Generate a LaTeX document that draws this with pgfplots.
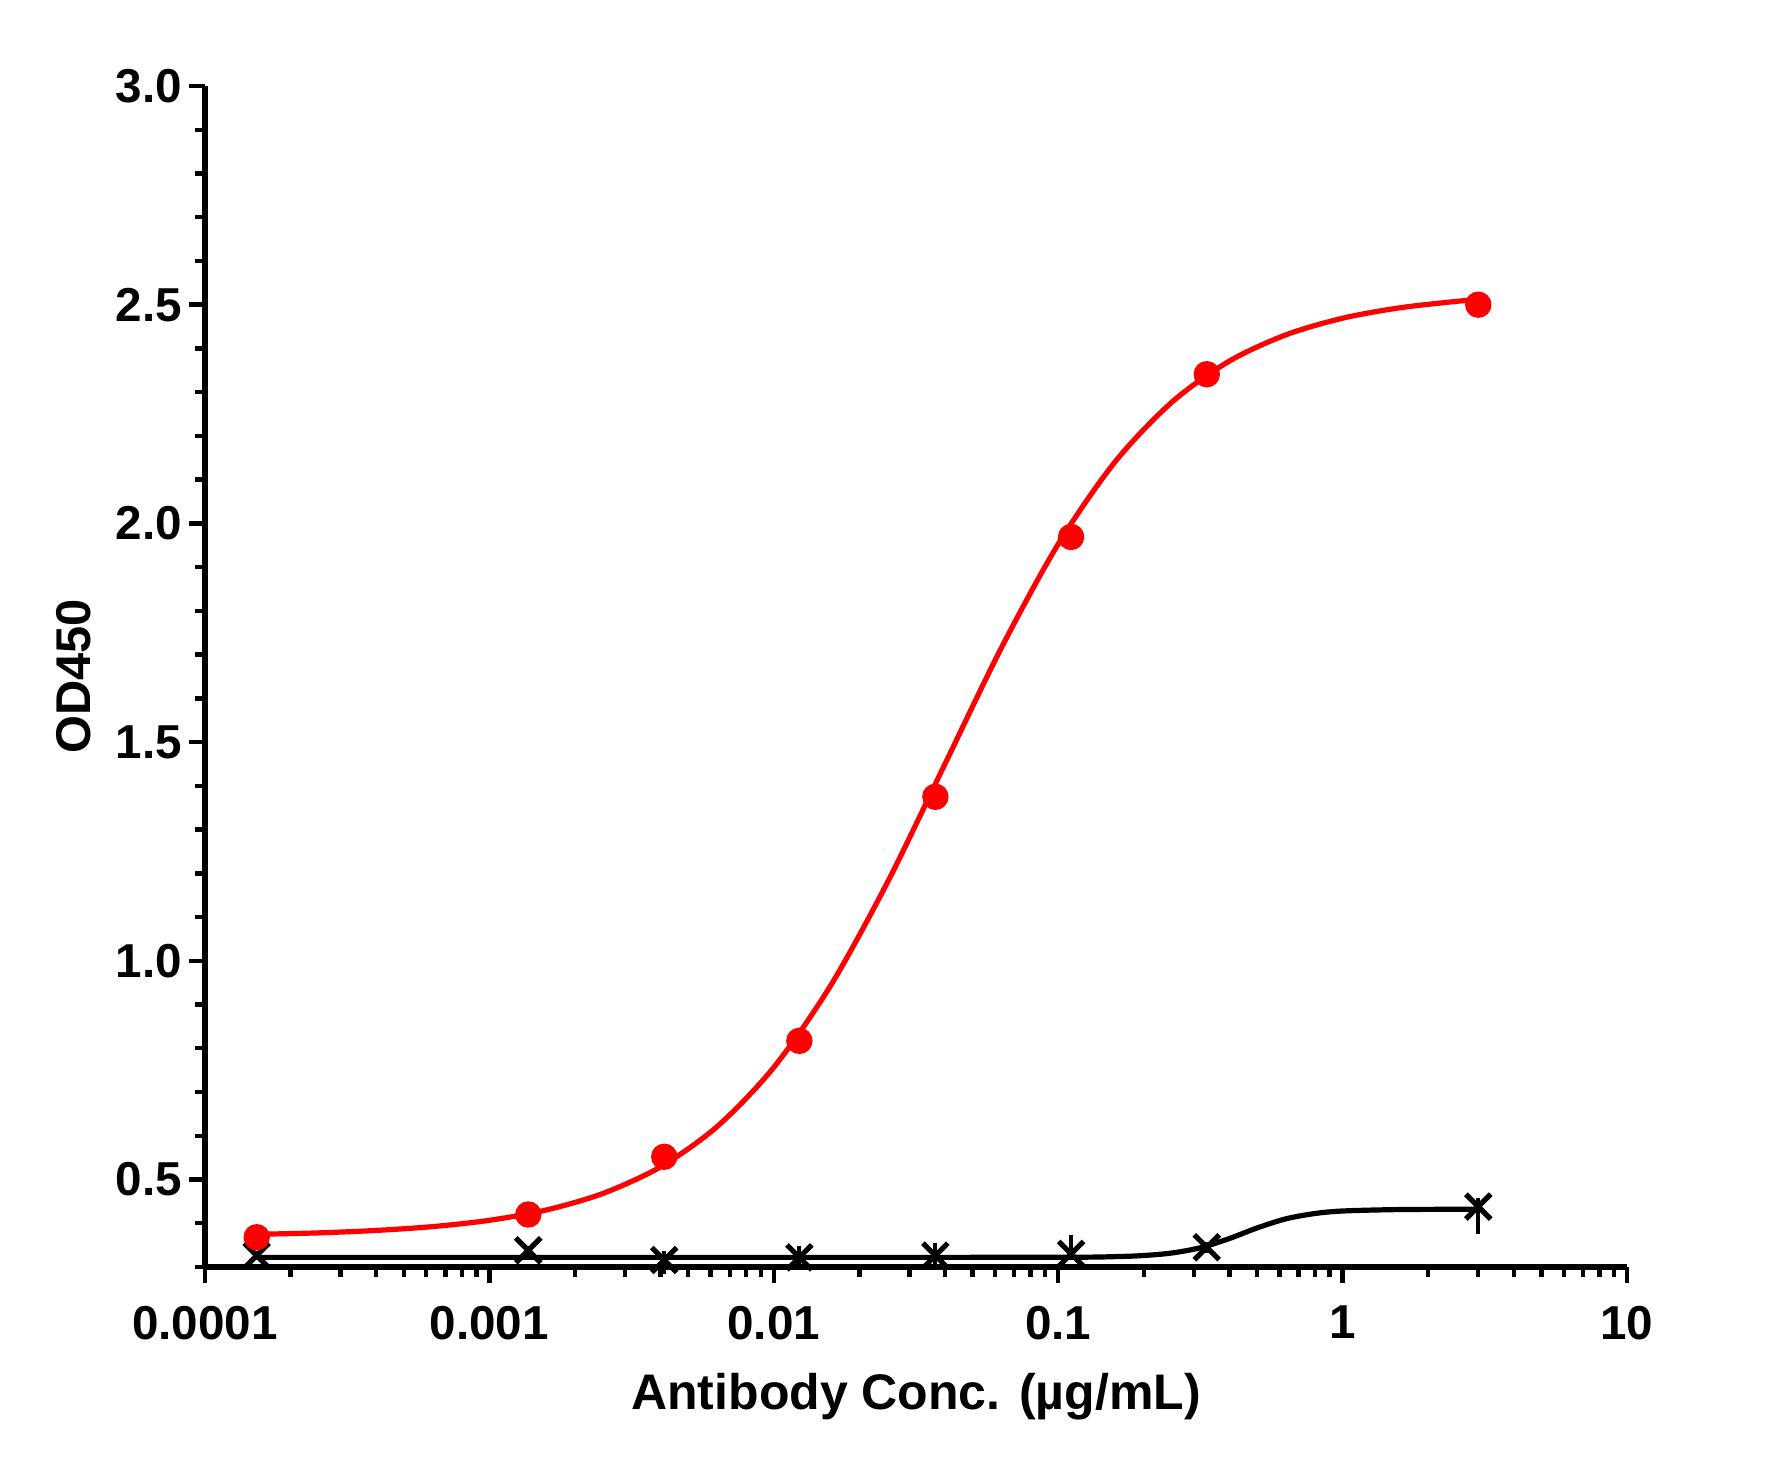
\documentclass[border=0pt]{standalone}
\usepackage{fontspec}
\setmainfont{Liberation Sans}
\usepackage{pgfplots}
\pgfplotsset{compat=1.18}
\begin{document}
\begin{tikzpicture}
\begin{axis}[
  scale only axis, width=355.5pt, height=295.25pt,
  xmode=log, xmin=1e-4, xmax=10, ymin=0.3, ymax=3.0,
  clip=false,
  axis x line*=bottom, axis y line*=left,
  axis line style={line width=1.4pt, -},
  tick align=outside,
  major tick length=4pt, minor tick length=2.4pt,
  tick style={line width=1.1pt, black},
  xtick={1e-4,1e-3,1e-2,1e-1,1,10},
  xticklabels={0.0001,0.001,0.01,0.1,1,10},
  minor xtick={2e-4,3e-4,4e-4,5e-4,6e-4,7e-4,8e-4,9e-4,
               2e-3,3e-3,4e-3,5e-3,6e-3,7e-3,8e-3,9e-3,
               2e-2,3e-2,4e-2,5e-2,6e-2,7e-2,8e-2,9e-2,
               0.2,0.3,0.4,0.5,0.6,0.7,0.8,0.9,
               2,3,4,5,6,7,8,9},
  ytick={0.5,1,1.5,2,2.5,3},
  yticklabels={0.5,1.0,1.5,2.0,2.5,3.0},
  minor ytick={0.3,0.4,0.6,0.7,0.8,0.9,1.1,1.2,1.3,1.4,1.6,1.7,1.8,1.9,2.1,2.2,2.3,2.4,2.6,2.7,2.8,2.9},
  xticklabel style={font=\fontsize{11.9}{14}\selectfont\bfseries, inner sep=0pt, anchor=north, yshift=-5.5pt},
  yticklabel style={font=\fontsize{11.9}{14}\selectfont\bfseries, inner sep=0pt, anchor=east, xshift=-1.6pt},
  every axis x label/.style={at={([yshift=-35.75pt]axis description cs:0.5,0)}, anchor=base, inner sep=0pt,
     font=\fontsize{12.5}{15}\selectfont\bfseries},
  every axis y label/.style={at={([xshift=-32.75pt]axis description cs:0,0.5)}, rotate=90, anchor=center, inner sep=0pt,
     font=\fontsize{12.2}{15}\selectfont\bfseries},
  xlabel={Antibody Conc. (µg/mL)},
  ylabel={OD450},
]
% black fitted curve
\addplot[black, line width=1.3pt, smooth, no marks] coordinates {
(0.000152,0.322)(0.001,0.322)(0.01,0.322)(0.1,0.3222)(0.1585,0.3237)(0.1995,0.3262)
(0.2512,0.332)(0.3162,0.344)(0.3981,0.3646)(0.5012,0.3894)(0.631,0.41)(0.7943,0.422)
(1,0.428)(1.585,0.4313)(3,0.432)};
% black points with error bars
\addplot[only marks, mark=x, mark size=4.4pt, black, mark options={line width=1.3pt},
  error bars/.cd, y dir=both, y explicit, error mark=none,
  error bar style={line width=1.0pt, black}] coordinates {
(0.000152,0.326) +- (0,0.01)
(0.00137,0.338) +- (0,0.01)
(0.00412,0.316) += (0,0.02) -= (0,0.032)
(0.0123,0.322) +- (0,0.025)
(0.037,0.326) += (0,0.028) -= (0,0.02)
(0.111,0.330) += (0,0.042) -= (0,0.01)
(0.333,0.345) +- (0,0.012)
(3,0.438) += (0,0.02) -= (0,0.062)};
% red fitted curve
\addplot[red, line width=1.3pt, smooth, no marks] coordinates {
(0.000152,0.3747)(0.000251,0.378)(0.000398,0.3835)(0.000631,0.3923)(0.001,0.4067)
(0.001585,0.4303)(0.002512,0.4683)(0.003981,0.5283)(0.00631,0.6206)(0.01,0.7564)
(0.01585,0.9435)(0.02512,1.1798)(0.03981,1.4473)(0.0631,1.7152)(0.1,1.9526)
(0.1585,2.1408)(0.2512,2.2773)(0.3981,2.3704)(0.631,2.4309)(1,2.4691)
(1.585,2.4928)(2.512,2.5076)(3,2.5114)};
% red points
\addplot[only marks, mark=*, mark size=3.1pt, red] coordinates {
(0.000152,0.368)(0.00137,0.420)(0.00412,0.552)(0.0123,0.817)
(0.037,1.375)(0.111,1.969)(0.333,2.341)(3,2.500)};
\end{axis}
\path ([shift={(-51.25pt,-49.25pt)}]current axis.south west) rectangle ([shift={(37.75pt,21.5pt)}]current axis.north east);
\end{tikzpicture}
\end{document}
